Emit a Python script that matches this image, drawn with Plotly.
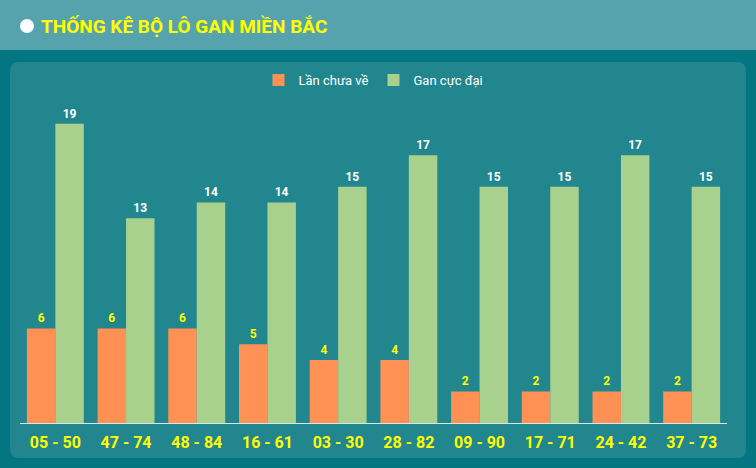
import plotly.graph_objects as go

categories = ["05 - 50", "47 - 74", "48 - 84", "16 - 61", "03 - 30",
              "28 - 82", "09 - 90", "17 - 71", "24 - 42", "37 - 73"]
lan_chua_ve = [6, 6, 6, 5, 4, 4, 2, 2, 2, 2]
gan_cuc_dai = [19, 13, 14, 14, 15, 17, 15, 15, 17, 15]

W, H = 756, 468
L, R, T, B = 20, 29, 100, 45

def px(x):
    return (x - L) / (W - L - R)

def py(y):
    return 1 - (y - T) / (H - T - B)

fig = go.Figure()
fig.add_trace(go.Bar(
    x=categories, y=lan_chua_ve, name="Lần chưa về",
    marker=dict(color="#ff9155", line=dict(width=0)),
    text=lan_chua_ve, textposition="outside",
    textfont=dict(color="#ffff00", size=12, family="Roboto", weight="bold"),
    cliponaxis=False, hoverinfo="x+y",
))
fig.add_trace(go.Bar(
    x=categories, y=gan_cuc_dai, name="Gan cực đại",
    marker=dict(color="#a8d18d", line=dict(width=0)),
    text=gan_cuc_dai, textposition="outside",
    textfont=dict(color="#ffffff", size=12, family="Roboto", weight="bold"),
    cliponaxis=False, hoverinfo="x+y",
))

# rounded card path in paper coords
x0, x1, y0, y1, r = 10, 746, 62, 458, 9
def P(x, y):
    return f"{px(x):.5f},{py(y):.5f}"
path = (f"M {P(x0+r, y0)} L {P(x1-r, y0)} Q {P(x1, y0)} {P(x1, y0+r)} "
        f"L {P(x1, y1-r)} Q {P(x1, y1)} {P(x1-r, y1)} "
        f"L {P(x0+r, y1)} Q {P(x0, y1)} {P(x0, y1-r)} "
        f"L {P(x0, y0+r)} Q {P(x0, y0)} {P(x0+r, y0)} Z")

shapes = [
    dict(type="rect", xref="paper", yref="paper", x0=px(0), x1=px(W), y0=py(0), y1=py(50),
         fillcolor="#56a3ad", line=dict(width=0), layer="below"),
    dict(type="path", xref="paper", yref="paper", path=path,
         fillcolor="#22868f", line=dict(width=0), layer="below"),
    dict(type="circle", xref="paper", yref="paper", x0=px(20), x1=px(34), y0=py(19), y1=py(33),
         fillcolor="#ffffff", line=dict(width=0), layer="above"),
]

fig.update_layout(
    width=W, height=H,
    margin=dict(l=L, r=R, t=T, b=B),
    paper_bgcolor="#047682",
    plot_bgcolor="rgba(0,0,0,0)",
    barmode="group", bargap=0.195, bargroupgap=0,
    shapes=shapes,
    showlegend=True,
    legend=dict(orientation="h", x=0.5, xanchor="center", y=py(80), yanchor="middle",
                font=dict(color="#ffffff", size=13, family="Roboto"),
                bgcolor="rgba(0,0,0,0)", traceorder="normal", itemwidth=30),
    xaxis=dict(showgrid=False, showline=True, linecolor="#d8e6e8", linewidth=1,
               ticks="", tickfont=dict(color="#ffff00", size=16, family="Roboto", weight="bold"),
               ticklabelstandoff=5),
    yaxis=dict(range=[0, 20.5], visible=False, showgrid=False, zeroline=False),
    annotations=[dict(xref="paper", yref="paper", x=px(39), y=py(26), xanchor="left", yanchor="middle",
                      text="<b>THỐNG KÊ BỘ LÔ GAN MIỀN BẮC</b>", showarrow=False,
                      font=dict(color="#ffff00", size=19, family="Roboto"))],
    font=dict(family="Roboto"),
)

fig.write_html("out.html", config={"displayModeBar": False},
               post_script="document.body.style.margin='0';document.body.style.padding='0';document.body.style.overflow='hidden';")
